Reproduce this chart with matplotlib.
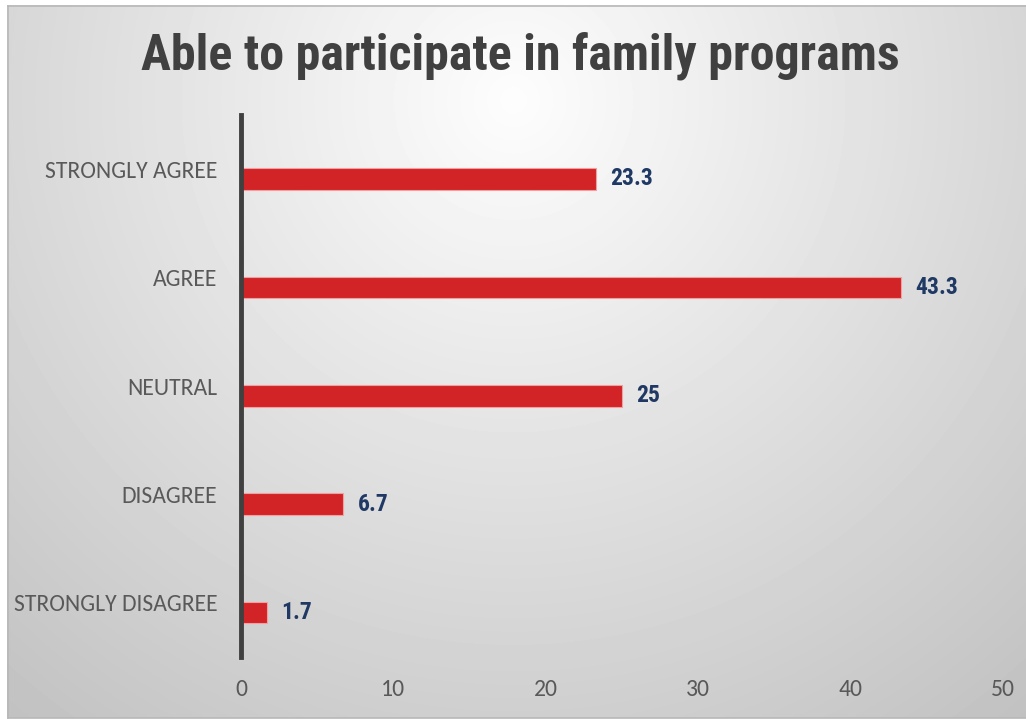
import numpy as np
import matplotlib.pyplot as plt

categories = ["STRONGLY AGREE", "AGREE", "NEUTRAL", "DISAGREE", "STRONGLY DISAGREE"]
values = [23.3, 43.3, 25, 6.7, 1.7]
xticks = [0, 10, 20, 30, 40, 50]

narrow = ["Roboto Condensed", "DejaVu Sans"]
plain = ["Carlito", "DejaVu Sans"]

W, H = 1026, 719
fig = plt.figure(figsize=(W / 100, H / 100), dpi=100)

# soft radial shading inside the chart frame, white outside
bg = fig.add_axes([0, 0, 1, 1], zorder=-10)
yy, xx = np.mgrid[0:H, 0:W]
d = np.hypot(xx - 513, yy - 100)
shade = np.clip(253 - 60 * d / 800, 0, 255) / 255
shade[:, :7] = 1.0
shade[:5, :] = 1.0
shade[718:, :] = 1.0
bg.imshow(shade, cmap="gray", vmin=0, vmax=1, aspect="auto", extent=[0, W, H, 0])
bg.plot([7.5, 7.5], [5.5, 717.5], color="#b8b8b8", lw=1.2)
bg.plot([7.5, W], [5.5, 5.5], color="#b8b8b8", lw=1.2)
bg.plot([7.5, W], [717.5, 717.5], color="#b8b8b8", lw=1.2)
bg.set_xlim(0, W)
bg.set_ylim(H, 0)
bg.axis("off")

ax = fig.add_axes([241 / W, 1 - 657 / H, 762 / W, 542 / H])
ax.patch.set_alpha(0)

pos = np.arange(len(categories))
ax.barh(pos + 0.09, values, height=0.2, color="#d22326", edgecolor="#f0a0a0", linewidth=0.8, zorder=2)
for p, v in zip(pos, values):
    ax.text(v + 0.95, p + 0.09, f"{v:g}", va="center", ha="left", color="#1f3864",
            fontsize=17, fontweight="bold", family=narrow)

ax.set_xlim(0, 50)
ax.set_ylim(len(categories) - 0.5, -0.5)
ax.set_yticks(pos)
ax.set_yticklabels(categories, family=plain, fontsize=17, color="#595959")
ax.set_xticks(xticks)
ax.set_xticklabels([str(t) for t in xticks], family=plain, fontsize=17, color="#595959")
ax.tick_params(axis="both", length=0)
ax.tick_params(axis="y", pad=17)
ax.tick_params(axis="x", pad=16)
for s in ["top", "right", "bottom"]:
    ax.spines[s].set_visible(False)
ax.spines["left"].set_color("#404040")
ax.spines["left"].set_linewidth(3.5)
ax.spines["left"].set_zorder(3)

fig.text(520 / W, 1 - 70 / H, "Able to participate in family programs", ha="center", va="baseline",
         fontsize=36, fontweight="bold", color="#404040", family=narrow)

fig.savefig("out.png", dpi=100)
